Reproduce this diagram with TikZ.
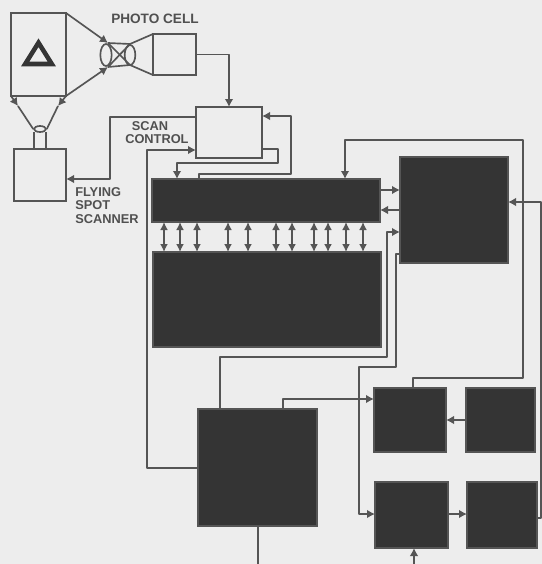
\documentclass[tikz,border=0pt]{standalone}
\usepackage{fontspec}
\setmainfont{Liberation Sans}
\usetikzlibrary{arrows.meta,shapes.geometric}
\tikzset{
  x=0.75pt,y=-0.75pt,
  wire/.style={draw=wirecol,line width=1.25pt,line join=round},
  arrowwire/.style={wire,-{Latex[length=6pt,width=6.5pt]}},
  twoway/.style={wire,{Latex[length=6pt,width=6pt]}-{Latex[length=6pt,width=6pt]}},
  openbox/.style 2 args={draw=wirecol,line width=1.3pt,fill=none,inner sep=0pt,outer sep=0pt,minimum width=#1*0.75pt,minimum height=#2*0.75pt},
  darkbox/.style 2 args={draw=wirecol,line width=0.8pt,fill=darkfill,inner sep=0pt,outer sep=0pt,minimum width=#1*0.75pt,minimum height=#2*0.75pt},
  lab/.style={text=labcol,font=\bfseries\fontsize{9.6}{10.2}\selectfont,inner sep=0pt,align=left}
}
\definecolor{wirecol}{HTML}{555555}
\definecolor{darkfill}{HTML}{343434}
\definecolor{labcol}{HTML}{505050}
\definecolor{bgcol}{HTML}{EDEDED}
\begin{document}
\begin{tikzpicture}
\useasboundingbox (0,0) rectangle (542,564);
\fill[bgcol] (0,0) rectangle (542,564);
% open boxes
\node[openbox={55}{83}] (hopper) at (38.5,54.5) {};
\node[openbox={52}{52}] (scanner) at (40,175) {};
\node[openbox={43}{41}] (cell) at (174.5,54.5) {};
\node[openbox={66}{51}] (ctl) at (229,132.5) {};
\node[draw=wirecol,line width=1.25pt,ellipse,inner sep=0pt,minimum width=9pt,minimum height=4.5pt] (tube) at (40,129) {};
\node[draw=wirecol,line width=1.25pt,ellipse,inner sep=0pt,minimum width=8.5pt,minimum height=16.5pt] (lensa) at (106,55) {};
\node[draw=wirecol,line width=1.25pt,ellipse,inner sep=0pt,minimum width=8pt,minimum height=15pt] (lensb) at (130,55) {};
% triangle
\draw[draw=darkfill,line width=3.4pt,line join=miter] (38.5,42.7) -- (51.8,64) -- (25.2,64) -- cycle;
% dark boxes
\node[darkbox={228}{43}] (reg) at (266,200.5) {};
\node[darkbox={228}{95}] (mem) at (267,299.5) {};
\node[darkbox={108}{106}] (logic) at (454,210) {};
\node[darkbox={119}{117}] (main) at (257.5,467.5) {};
\node[darkbox={72}{64}] (b5) at (410,420) {};
\node[darkbox={69}{64}] (b6) at (500.5,420) {};
\node[darkbox={73}{66}] (b7) at (411.5,515) {};
\node[darkbox={70}{66}] (b8) at (502,515) {};
% optical lines
\coordinate (ha) at (hopper.north east);
\coordinate (hb) at (hopper.south east);
\coordinate (hc) at (hopper.south west);
\coordinate (la) at (108,43);
\coordinate (lb) at (108,67);
\coordinate (ma) at (130,44);
\coordinate (mb) at (130,65);
\draw[arrowwire] (ha) -- (la);
\draw[arrowwire] (hb) -- (lb);
\draw[wire] (la) -- (ma) (lb) -- (mb) (la) -- (mb) (lb) -- (ma);
\draw[wire] (ma) -- (cell.north west |- 0,34);
\draw[wire] (mb) -- (cell.south west);
% hopper to tube
\coordinate (hd) at (18,106);
\coordinate (he) at (58,106);
\draw[arrowwire] (hc) -- (hd);
\draw[arrowwire] (hb) -- (he);
\draw[wire] (hd) -- (tube.west);
\draw[wire] (he) -- (tube.east);
\draw[wire] (34,132) -- (scanner.north -| 34,0);
\draw[wire] (46,132) -- (scanner.north -| 46,0);
% connectors
\draw[arrowwire] (cell.east) -- (cell.east -| ctl.north) -- (ctl.north);
\draw[arrowwire] (ctl.west |- 0,117) -- (110,117) -- (110,179) -- (scanner.east |- 0,179);
\draw[arrowwire] (main.west |- 0,468) -- (147,468) -- (147,150) -- (ctl.west |- 0,150);
\draw[arrowwire] (reg.north -| 199,0) -- (199,174) -- (291,174) -- (291,116) -- (ctl.east |- 0,116);
\draw[arrowwire] (ctl.east |- 0,149) -- (278,149) -- (278,163) -- (177,163) -- (reg.north -| 177,0);
\draw[arrowwire] (b5.north -| 413,0) -- (413,378) -- (523,378) -- (523,140) -- (345,140) -- (reg.north -| 345,0);
\foreach \px in {164,180,197,228,248,276,292,314,328,346,363}
  \draw[twoway] (reg.south -| \px,0) -- (mem.north -| \px,0);
\draw[arrowwire] (reg.east |- 0,190) -- (logic.west |- 0,190);
\draw[arrowwire] (logic.west |- 0,210) -- (reg.east |- 0,210);
\draw[arrowwire] (main.north -| 220,0) -- (220,357) -- (387,357) -- (387,232) -- (logic.west |- 0,232);
\draw[arrowwire] (logic.west |- 0,254) -- (396,254) -- (396,367) -- (359,367) -- (359,514) -- (b7.west |- 0,514);
\draw[arrowwire] (main.north -| 283,0) -- (283,399) -- (b5.west |- 0,399);
\draw[arrowwire] (b6.west) -- (b5.east);
\draw[arrowwire] (b7.east |- 0,514) -- (b8.west |- 0,514);
\draw[arrowwire] (b8.east |- 0,518) -- (541,518) -- (541,202) -- (logic.east |- 0,202);
\coordinate (offb) at (258,564);
\coordinate (offc) at (414,564);
\draw[wire] (main.south -| offb) -- (offb);
\draw[arrowwire] (offc) -- (b7.south -| offc);
% labels
\node[lab,anchor=west] (t1) at (111,19) {\fontsize{10.2}{11}\selectfont PHOTO CELL};
\node[lab,anchor=north west] (t2) at (125,121) {\hspace*{5pt}SCAN\\CONTROL};
\node[lab,anchor=north west] (t3) at (75,187) {FLYING\\SPOT\\SCANNER};
\end{tikzpicture}
\end{document}
